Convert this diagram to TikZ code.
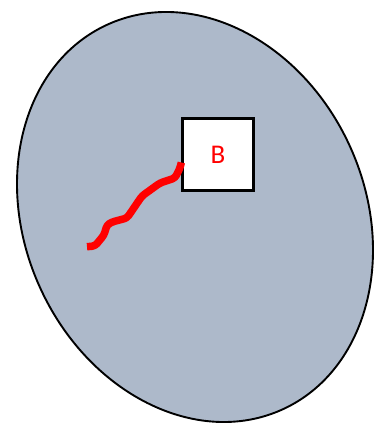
\documentclass[tikz,border=0pt]{standalone}
\usepackage{fontspec}
\setmainfont{Carlito}
\definecolor{blobfill}{RGB}{173,185,202}
\tikzset{
  blob/.style={draw=black, line width=1.9pt, fill=blobfill},
  boxnode/.style={draw=black, line width=2.3pt, fill=white, minimum width=71pt, minimum height=72pt, inner sep=0pt, text=red, font=\fontsize{27}{32}\selectfont},
  redline/.style={draw=red, line width=7.5pt, line join=round, rounded corners=3pt}
}
\begin{document}
\begin{tikzpicture}[x=1pt,y=1pt]
\useasboundingbox (0,0) rectangle (373,423);
\draw[blob] (195,206) ellipse [x radius=211.4, y radius=170.3, rotate=-65.6];
\node[boxnode] (B) at (218,268.5) {B};
\coordinate (s) at (87,176.3);
\draw[redline] (s) -- (95,177) -- (104,188) -- (107,198) -- (112,201) -- (127,205) -- (142,227) -- (160,240) -- (175,245) -- (180,255) -- ([yshift=-8pt]B.west);
\end{tikzpicture}
\end{document}
